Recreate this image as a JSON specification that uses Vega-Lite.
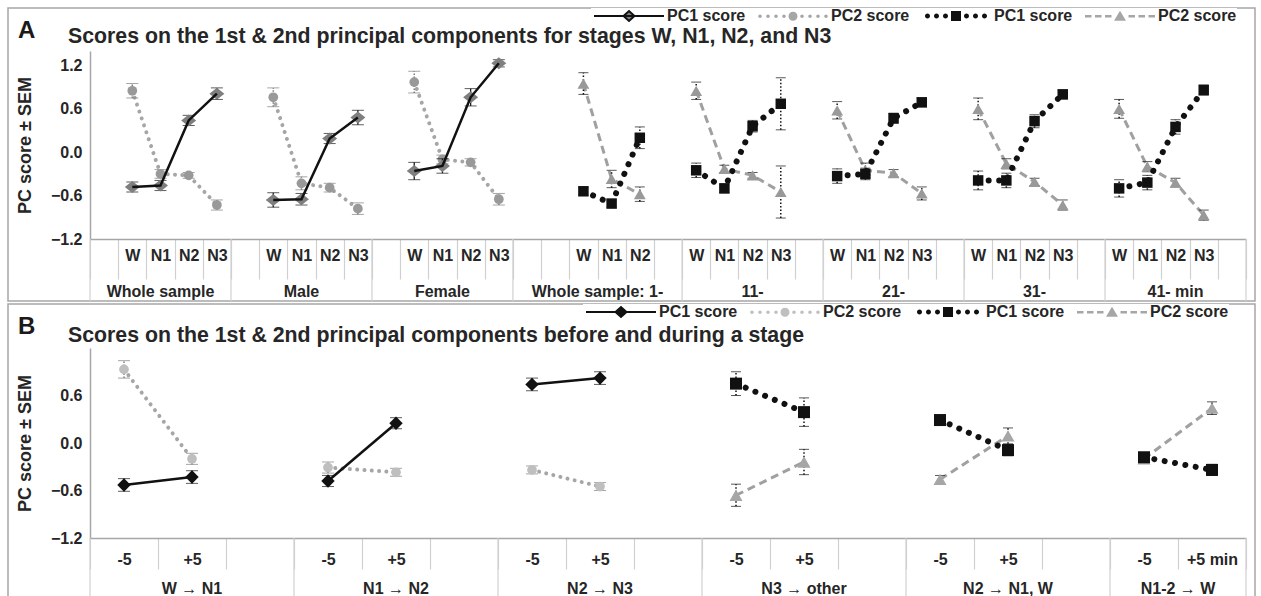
{
"$schema": "https://vega.github.io/schema/vega-lite/v6.json",
"padding": {"left": 7, "top": 7, "right": 0, "bottom": 0},
"spacing": 0,
"config": {"font": "Liberation Sans", "view": {"stroke": "#a6a6a6", "strokeWidth": 1.5}, "concat": {"spacing": 0}},
"resolve": {"scale": {"shape": "independent", "fill": "independent", "stroke": "independent"}, "legend": {"shape": "independent", "fill": "independent", "stroke": "independent"}},
"datasets": {
"A": [
{"g":"Whole sample","s":"Whole sample|W","ser":"PC1a","y":-0.48,"e":0.07},
{"g":"Whole sample","s":"Whole sample|N1","ser":"PC1a","y":-0.46,"e":0.07},
{"g":"Whole sample","s":"Whole sample|N2","ser":"PC1a","y":0.44,"e":0.07},
{"g":"Whole sample","s":"Whole sample|N3","ser":"PC1a","y":0.81,"e":0.08},
{"g":"Whole sample","s":"Whole sample|W","ser":"PC2a","y":0.85,"e":0.1},
{"g":"Whole sample","s":"Whole sample|N1","ser":"PC2a","y":-0.3,"e":0.06},
{"g":"Whole sample","s":"Whole sample|N2","ser":"PC2a","y":-0.32,"e":0.04},
{"g":"Whole sample","s":"Whole sample|N3","ser":"PC2a","y":-0.73,"e":0.07},
{"g":"Male","s":"Male|W","ser":"PC1a","y":-0.66,"e":0.1},
{"g":"Male","s":"Male|N1","ser":"PC1a","y":-0.65,"e":0.08},
{"g":"Male","s":"Male|N2","ser":"PC1a","y":0.19,"e":0.07},
{"g":"Male","s":"Male|N3","ser":"PC1a","y":0.48,"e":0.1},
{"g":"Male","s":"Male|W","ser":"PC2a","y":0.76,"e":0.13},
{"g":"Male","s":"Male|N1","ser":"PC2a","y":-0.43,"e":0.09},
{"g":"Male","s":"Male|N2","ser":"PC2a","y":-0.49,"e":0.06},
{"g":"Male","s":"Male|N3","ser":"PC2a","y":-0.78,"e":0.08},
{"g":"Female","s":"Female|W","ser":"PC1a","y":-0.26,"e":0.12},
{"g":"Female","s":"Female|N1","ser":"PC1a","y":-0.19,"e":0.1},
{"g":"Female","s":"Female|N2","ser":"PC1a","y":0.76,"e":0.12},
{"g":"Female","s":"Female|N3","ser":"PC1a","y":1.23,"e":0.05},
{"g":"Female","s":"Female|W","ser":"PC2a","y":0.97,"e":0.15},
{"g":"Female","s":"Female|N1","ser":"PC2a","y":-0.1,"e":0.06},
{"g":"Female","s":"Female|N2","ser":"PC2a","y":-0.14,"e":0.05},
{"g":"Female","s":"Female|N3","ser":"PC2a","y":-0.65,"e":0.08},
{"g":"Whole sample: 1-","s":"Whole sample: 1-|W","ser":"PC1b","y":-0.54,"e":0.05},
{"g":"Whole sample: 1-","s":"Whole sample: 1-|N1","ser":"PC1b","y":-0.71,"e":0.05},
{"g":"Whole sample: 1-","s":"Whole sample: 1-|N2","ser":"PC1b","y":0.2,"e":0.15},
{"g":"Whole sample: 1-","s":"Whole sample: 1-|W","ser":"PC2b","y":0.95,"e":0.15},
{"g":"Whole sample: 1-","s":"Whole sample: 1-|N1","ser":"PC2b","y":-0.37,"e":0.12},
{"g":"Whole sample: 1-","s":"Whole sample: 1-|N2","ser":"PC2b","y":-0.58,"e":0.1},
{"g":"11-","s":"11-|W","ser":"PC1b","y":-0.25,"e":0.1},
{"g":"11-","s":"11-|N1","ser":"PC1b","y":-0.5,"e":0.06},
{"g":"11-","s":"11-|N2","ser":"PC1b","y":0.36,"e":0.08},
{"g":"11-","s":"11-|N3","ser":"PC1b","y":0.67,"e":0.36},
{"g":"11-","s":"11-|W","ser":"PC2b","y":0.85,"e":0.12},
{"g":"11-","s":"11-|N1","ser":"PC2b","y":-0.23,"e":0.05},
{"g":"11-","s":"11-|N2","ser":"PC2b","y":-0.32,"e":0.04},
{"g":"11-","s":"11-|N3","ser":"PC2b","y":-0.55,"e":0.36},
{"g":"21-","s":"21-|W","ser":"PC1b","y":-0.33,"e":0.1},
{"g":"21-","s":"21-|N1","ser":"PC1b","y":-0.3,"e":0.08},
{"g":"21-","s":"21-|N2","ser":"PC1b","y":0.47,"e":0.07},
{"g":"21-","s":"21-|N3","ser":"PC1b","y":0.69,"e":0.06},
{"g":"21-","s":"21-|W","ser":"PC2b","y":0.58,"e":0.12},
{"g":"21-","s":"21-|N1","ser":"PC2b","y":-0.25,"e":0.1},
{"g":"21-","s":"21-|N2","ser":"PC2b","y":-0.29,"e":0.05},
{"g":"21-","s":"21-|N3","ser":"PC2b","y":-0.57,"e":0.09},
{"g":"31-","s":"31-|W","ser":"PC1b","y":-0.39,"e":0.13},
{"g":"31-","s":"31-|N1","ser":"PC1b","y":-0.39,"e":0.1},
{"g":"31-","s":"31-|N2","ser":"PC1b","y":0.43,"e":0.09},
{"g":"31-","s":"31-|N3","ser":"PC1b","y":0.8,"e":0.06},
{"g":"31-","s":"31-|W","ser":"PC2b","y":0.6,"e":0.15},
{"g":"31-","s":"31-|N1","ser":"PC2b","y":-0.16,"e":0.07},
{"g":"31-","s":"31-|N2","ser":"PC2b","y":-0.41,"e":0.05},
{"g":"31-","s":"31-|N3","ser":"PC2b","y":-0.73,"e":0.07},
{"g":"41- min","s":"41- min|W","ser":"PC1b","y":-0.5,"e":0.12},
{"g":"41- min","s":"41- min|N1","ser":"PC1b","y":-0.42,"e":0.1},
{"g":"41- min","s":"41- min|N2","ser":"PC1b","y":0.35,"e":0.1},
{"g":"41- min","s":"41- min|N3","ser":"PC1b","y":0.86,"e":0.07},
{"g":"41- min","s":"41- min|W","ser":"PC2b","y":0.6,"e":0.13},
{"g":"41- min","s":"41- min|N1","ser":"PC2b","y":-0.2,"e":0.07},
{"g":"41- min","s":"41- min|N2","ser":"PC2b","y":-0.42,"e":0.06},
{"g":"41- min","s":"41- min|N3","ser":"PC2b","y":-0.87,"e":0.07}
],
"B": [
{"g":"W → N1","s":"W → N1|-5","ser":"PC1a","y":-0.53,"e":0.08},
{"g":"W → N1","s":"W → N1|+5","ser":"PC1a","y":-0.43,"e":0.08},
{"g":"W → N1","s":"W → N1|-5","ser":"PC2a","y":0.93,"e":0.11},
{"g":"W → N1","s":"W → N1|+5","ser":"PC2a","y":-0.2,"e":0.07},
{"g":"N1 → N2","s":"N1 → N2|-5","ser":"PC1a","y":-0.48,"e":0.07},
{"g":"N1 → N2","s":"N1 → N2|+5","ser":"PC1a","y":0.25,"e":0.07},
{"g":"N1 → N2","s":"N1 → N2|-5","ser":"PC2a","y":-0.31,"e":0.07},
{"g":"N1 → N2","s":"N1 → N2|+5","ser":"PC2a","y":-0.37,"e":0.05},
{"g":"N2 → N3","s":"N2 → N3|-5","ser":"PC1a","y":0.74,"e":0.08},
{"g":"N2 → N3","s":"N2 → N3|+5","ser":"PC1a","y":0.82,"e":0.08},
{"g":"N2 → N3","s":"N2 → N3|-5","ser":"PC2a","y":-0.34,"e":0.05},
{"g":"N2 → N3","s":"N2 → N3|+5","ser":"PC2a","y":-0.55,"e":0.05},
{"g":"N3 → other","s":"N3 → other|-5","ser":"PC1b","y":0.75,"e":0.15},
{"g":"N3 → other","s":"N3 → other|+5","ser":"PC1b","y":0.39,"e":0.18},
{"g":"N3 → other","s":"N3 → other|-5","ser":"PC2b","y":-0.66,"e":0.14},
{"g":"N3 → other","s":"N3 → other|+5","ser":"PC2b","y":-0.24,"e":0.16},
{"g":"N2 → N1, W","s":"N2 → N1, W|-5","ser":"PC1b","y":0.29,"e":0.05},
{"g":"N2 → N1, W","s":"N2 → N1, W|+5","ser":"PC1b","y":-0.09,"e":0.07},
{"g":"N2 → N1, W","s":"N2 → N1, W|-5","ser":"PC2b","y":-0.46,"e":0.05},
{"g":"N2 → N1, W","s":"N2 → N1, W|+5","ser":"PC2b","y":0.09,"e":0.1},
{"g":"N1-2 →  W","s":"N1-2 →  W|-5","ser":"PC1b","y":-0.18,"e":0.06},
{"g":"N1-2 →  W","s":"N1-2 →  W|+5 min","ser":"PC1b","y":-0.34,"e":0.07},
{"g":"N1-2 →  W","s":"N1-2 →  W|-5","ser":"PC2b","y":-0.2,"e":0.05},
{"g":"N1-2 →  W","s":"N1-2 →  W|+5 min","ser":"PC2b","y":0.44,"e":0.08}
],
"sepA": [{"s":"Whole sample|"},{"s":"Male|"},{"s":"Female|"},{"s":"Whole sample: 1-|"},{"s":"11-|W"},{"s":"21-|W"},{"s":"31-|W"},{"s":"41- min|W"}],
"endA": [{"s":"41- min|"}],
"gA": [
{"g":"Whole sample","s":"Whole sample|N1","n":5},
{"g":"Male","s":"Male|N1","n":5},
{"g":"Female","s":"Female|N1","n":5},
{"g":"Whole sample: 1-","s":"Whole sample: 1-|W","n":6},
{"g":"11-","s":"11-|N2","n":5},
{"g":"21-","s":"21-|N2","n":5},
{"g":"31-","s":"31-|N2","n":5},
{"g":"41- min","s":"41- min|N2","n":5}
],
"sepB": [{"s":"W → N1|-5"},{"s":"N1 → N2|-5"},{"s":"N2 → N3|-5"},{"s":"N3 → other|-5"},{"s":"N2 → N1, W|-5"},{"s":"N1-2 →  W|-5"}],
"endB": [{"s":"N1-2 →  W|+5 min"}],
"gB": [
{"g":"W → N1","s":"W → N1|+5","n":3},
{"g":"N1 → N2","s":"N1 → N2|+5","n":3},
{"g":"N2 → N3","s":"N2 → N3|+5","n":3},
{"g":"N3 → other","s":"N3 → other|+5","n":3},
{"g":"N2 → N1, W","s":"N2 → N1, W|+5","n":3},
{"g":"N1-2 →  W","s":"N1-2 →  W|-5","n":2}
],
"leg": []
},
"vconcat": [
{
"title": {"text": "A", "anchor": "start", "frame": "group", "fontSize": 24, "fontWeight": "bold", "color": "#1a1a1a", "baseline": "alphabetic", "offset": -55, "dx": 10},
"resolve": {"scale": {"shape": "independent", "fill": "independent", "stroke": "independent"}},
"vconcat": [
{
"title": {"text": "Scores on the 1st & 2nd principal components for stages W, N1, N2, and N3", "anchor": "start", "frame": "group", "fontSize": 21.3, "fontWeight": "bold", "color": "#262626", "baseline": "alphabetic", "offset": -56, "dx": 60},
"width": 1247, "height": 293,
"layer": [
{"data": {"name": "sepA"}, "mark": {"type": "rule", "color": "#d0d0d0", "strokeWidth": 1.2},
 "encoding": {
  "x": {"field": "s", "type": "ordinal", "bandPosition": 0,
   "scale": {"type": "band", "domain": ["Whole sample|","Whole sample|W","Whole sample|N1","Whole sample|N2","Whole sample|N3","Male|","Male|W","Male|N1","Male|N2","Male|N3","Female|","Female|W","Female|N1","Female|N2","Female|N3","Whole sample: 1-|","Whole sample: 1-| ","Whole sample: 1-|W","Whole sample: 1-|N1","Whole sample: 1-|N2","Whole sample: 1-|  ","11-|W","11-|N1","11-|N2","11-|N3","11-|","21-|W","21-|N1","21-|N2","21-|N3","21-|","31-|W","31-|N1","31-|N2","31-|N3","31-|","41- min|W","41- min|N1","41- min|N2","41- min|N3","41- min|"], "range": [82, 1238], "paddingInner": 0, "paddingOuter": 0},
   "axis": {"title": null, "offset": -62, "tickBand": "extent", "tickSize": 40, "tickColor": "#d0d0d0", "tickWidth": 1.2, "domainColor": "#a6a6a6", "domainWidth": 1.5, "labelExpr": "split(datum.label,'|')[1]", "labelFontSize": 16, "labelFontWeight": "bold", "labelColor": "#262626", "labelPadding": -32, "labelAngle": 0, "labelOverlap": false, "labelBound": false, "grid": false}},
  "y": {"datum": -1.2, "type": "quantitative",
   "scale": {"domain": [-1.2, 1.4], "range": [231, 43], "nice": false, "zero": false},
   "axis": {"values": [-1.2, -0.6, 0, 0.6, 1.2], "format": ".1f", "offset": -82, "ticks": false, "grid": false, "domainColor": "#a6a6a6", "domainWidth": 1.5, "labelFontSize": 16, "labelFontWeight": "bold", "labelColor": "#262626", "labelPadding": 8, "title": "PC score ± SEM", "titleFontSize": 18, "titleFontWeight": "bold", "titleColor": "#262626", "titlePadding": 16}},
  "y2": {"datum": -2.06}}},
{"data": {"name": "endA"}, "mark": {"type": "rule", "color": "#d0d0d0", "strokeWidth": 1.2},
 "encoding": {"x": {"field": "s", "type": "ordinal", "bandPosition": 1}, "y": {"datum": -1.2}, "y2": {"datum": -2.06}}},
{"data": {"name": "gA"}, "transform": [{"filter": "datum.n % 2 == 1"}], "mark": {"type": "text", "fontSize": 16, "fontWeight": "bold", "color": "#262626", "baseline": "middle"},
 "encoding": {"x": {"field": "s", "type": "ordinal", "bandPosition": 0.5}, "y": {"datum": -1.93}, "text": {"field": "g"}}},
{"data": {"name": "gA"}, "transform": [{"filter": "datum.n % 2 == 0"}], "mark": {"type": "text", "fontSize": 16, "fontWeight": "bold", "color": "#262626", "baseline": "middle"},
 "encoding": {"x": {"field": "s", "type": "ordinal", "bandPosition": 1}, "y": {"datum": -1.93}, "text": {"field": "g"}}},
{"data": {"name": "A"}, "transform": [{"filter": "datum.ser == 'PC2a'"}], "mark": {"type": "line", "color": "#a6a6a6", "strokeWidth": 4, "strokeDash": [0.01, 7.3], "strokeCap": "round"},
 "encoding": {"x": {"field": "s", "type": "ordinal"}, "y": {"field": "y", "type": "quantitative", "title": "PC score ± SEM"}, "detail": {"field": "g"}, "order": {"value": null}}},
{"data": {"name": "A"}, "transform": [{"filter": "datum.ser == 'PC2a'"}], "mark": {"type": "errorbar", "ticks": {"size": 12, "color": "#7f7f7f", "strokeWidth": 1.5, "strokeDash": [1.5, 1.5]}, "rule": {"color": "#7f7f7f", "strokeWidth": 1.5, "strokeDash": [1.5, 1.5]}},
 "encoding": {"x": {"field": "s", "type": "ordinal"}, "y": {"field": "y", "type": "quantitative", "title": "PC score ± SEM"}, "yError": {"field": "e"}}},
{"data": {"name": "A"}, "transform": [{"filter": "datum.ser == 'PC2a'"}], "mark": {"type": "point", "shape": "circle", "filled": true, "size": 95, "color": "#999999", "opacity": 1},
 "encoding": {"x": {"field": "s", "type": "ordinal"}, "y": {"field": "y", "type": "quantitative", "title": "PC score ± SEM"}}},
{"data": {"name": "A"}, "transform": [{"filter": "datum.ser == 'PC1a'"}], "mark": {"type": "errorbar", "ticks": {"size": 12, "color": "#1a1a1a", "strokeWidth": 1.3}, "rule": {"color": "#1a1a1a", "strokeWidth": 1.3}},
 "encoding": {"x": {"field": "s", "type": "ordinal"}, "y": {"field": "y", "type": "quantitative", "title": "PC score ± SEM"}, "yError": {"field": "e"}}},
{"data": {"name": "A"}, "transform": [{"filter": "datum.ser == 'PC1a'"}], "mark": {"type": "point", "shape": "M-1,0L0,-0.8L1,0L0,0.8Z", "filled": true, "size": 225, "color": "#7f7f7f", "opacity": 1},
 "encoding": {"x": {"field": "s", "type": "ordinal"}, "y": {"field": "y", "type": "quantitative", "title": "PC score ± SEM"}}},
{"data": {"name": "A"}, "transform": [{"filter": "datum.ser == 'PC1a'"}], "mark": {"type": "line", "color": "#111111", "strokeWidth": 2.5},
 "encoding": {"x": {"field": "s", "type": "ordinal"}, "y": {"field": "y", "type": "quantitative", "title": "PC score ± SEM"}, "detail": {"field": "g"}, "order": {"value": null}}},
{"data": {"name": "A"}, "transform": [{"filter": "datum.ser == 'PC2b'"}], "mark": {"type": "line", "color": "#a0a0a0", "strokeWidth": 3, "strokeDash": [8, 5]},
 "encoding": {"x": {"field": "s", "type": "ordinal"}, "y": {"field": "y", "type": "quantitative", "title": "PC score ± SEM"}, "detail": {"field": "g"}, "order": {"value": null}}},
{"data": {"name": "A"}, "transform": [{"filter": "datum.ser == 'PC2b'"}], "mark": {"type": "errorbar", "ticks": {"size": 10, "color": "#111111", "strokeWidth": 1.5, "strokeDash": [1.5, 2]}, "rule": {"color": "#111111", "strokeWidth": 1.5, "strokeDash": [1.5, 2]}},
 "encoding": {"x": {"field": "s", "type": "ordinal"}, "y": {"field": "y", "type": "quantitative", "title": "PC score ± SEM"}, "yError": {"field": "e"}}},
{"data": {"name": "A"}, "transform": [{"filter": "datum.ser == 'PC2b'"}], "mark": {"type": "point", "shape": "triangle-up", "filled": true, "size": 140, "color": "#999999", "opacity": 1},
 "encoding": {"x": {"field": "s", "type": "ordinal"}, "y": {"field": "y", "type": "quantitative", "title": "PC score ± SEM"}}},
{"data": {"name": "A"}, "transform": [{"filter": "datum.ser == 'PC1b'"}], "mark": {"type": "line", "color": "#111111", "strokeWidth": 6, "strokeDash": [0.01, 10.5], "strokeCap": "round"},
 "encoding": {"x": {"field": "s", "type": "ordinal"}, "y": {"field": "y", "type": "quantitative", "title": "PC score ± SEM"}, "detail": {"field": "g"}, "order": {"value": null}}},
{"data": {"name": "A"}, "transform": [{"filter": "datum.ser == 'PC1b'"}], "mark": {"type": "errorbar", "ticks": {"size": 10, "color": "#111111", "strokeWidth": 1.5, "strokeDash": [1.5, 2]}, "rule": {"color": "#111111", "strokeWidth": 1.5, "strokeDash": [1.5, 2]}},
 "encoding": {"x": {"field": "s", "type": "ordinal"}, "y": {"field": "y", "type": "quantitative", "title": "PC score ± SEM"}, "yError": {"field": "e"}}},
{"data": {"name": "A"}, "transform": [{"filter": "datum.ser == 'PC1b'"}], "mark": {"type": "point", "shape": "square", "filled": true, "size": 110, "color": "#111111", "opacity": 1},
 "encoding": {"x": {"field": "s", "type": "ordinal"}, "y": {"field": "y", "type": "quantitative", "title": "PC score ± SEM"}}},
{"data": {"name": "leg"}, "mark": {"type": "point", "filled": true, "strokeWidth": 2, "opacity": 1},
 "encoding": {
  "shape": {"field": "ser", "type": "nominal", "scale": {"domain": ["PC1a","PC2a","PC1b","PC2b"], "range": [
   "M-7,0L7,0M-1.1,0L0,-1L1.1,0L0,1Z",
   "M-6.95,0a0.35,0.35 0 1,0 0.7,0a0.35,0.35 0 1,0 -0.7,0M-5.35,0a0.35,0.35 0 1,0 0.7,0a0.35,0.35 0 1,0 -0.7,0M-3.75,0a0.35,0.35 0 1,0 0.7,0a0.35,0.35 0 1,0 -0.7,0M-2.15,0a0.35,0.35 0 1,0 0.7,0a0.35,0.35 0 1,0 -0.7,0M-0.9,0a0.9,0.9 0 1,0 1.8,0a0.9,0.9 0 1,0 -1.8,0M1.45,0a0.35,0.35 0 1,0 0.7,0a0.35,0.35 0 1,0 -0.7,0M3.05,0a0.35,0.35 0 1,0 0.7,0a0.35,0.35 0 1,0 -0.7,0M4.65,0a0.35,0.35 0 1,0 0.7,0a0.35,0.35 0 1,0 -0.7,0M6.25,0a0.35,0.35 0 1,0 0.7,0a0.35,0.35 0 1,0 -0.7,0",
   "M-6.2,0a0.5,0.5 0 1,0 1,0a0.5,0.5 0 1,0 -1,0M-4.4,0a0.5,0.5 0 1,0 1,0a0.5,0.5 0 1,0 -1,0M-2.6,0a0.5,0.5 0 1,0 1,0a0.5,0.5 0 1,0 -1,0M-1,-1L1,-1L1,1L-1,1ZM1.6,0a0.5,0.5 0 1,0 1,0a0.5,0.5 0 1,0 -1,0M3.4,0a0.5,0.5 0 1,0 1,0a0.5,0.5 0 1,0 -1,0M5.2,0a0.5,0.5 0 1,0 1,0a0.5,0.5 0 1,0 -1,0",
   "M-7,-0.25L-5.7,-0.25L-5.7,0.25L-7,0.25ZM-5,-0.25L-3.7,-0.25L-3.7,0.25L-5,0.25ZM-3,-0.25L-1.7,-0.25L-1.7,0.25L-3,0.25ZM0,-1.1L1.2,0.9L-1.2,0.9ZM1.7,-0.25L3,-0.25L3,0.25L1.7,0.25ZM3.7,-0.25L5,-0.25L5,0.25L3.7,0.25ZM5.7,-0.25L7,-0.25L7,0.25L5.7,0.25Z"
  ]},
   "legend": {"title": null, "orient": "none", "legendX": 583, "legendY": 0, "direction": "horizontal", "symbolSize": 100, "symbolStrokeWidth": 2, "symbolOpacity": 1, "symbolOffset": 30, "labelOffset": 30, "columnPadding": 8, "labelFontSize": 16, "labelFontWeight": "bold", "labelColor": "#262626", "labelExpr": "slice(datum.label,0,3) + ' score'", "fillColor": "white"}},
  "fill": {"field": "ser", "type": "nominal", "scale": {"domain": ["PC1a","PC2a","PC1b","PC2b"], "range": ["#7f7f7f","#a6a6a6","#111111","#a6a6a6"]},
   "legend": {"title": null, "orient": "none", "legendX": 583, "legendY": 0, "direction": "horizontal", "symbolSize": 100, "symbolStrokeWidth": 2, "symbolOpacity": 1, "symbolOffset": 30, "labelOffset": 30, "columnPadding": 8, "labelFontSize": 16, "labelFontWeight": "bold", "labelColor": "#262626", "labelExpr": "slice(datum.label,0,3) + ' score'", "fillColor": "white"}},
  "stroke": {"field": "ser", "type": "nominal", "scale": {"domain": ["PC1a","PC2a","PC1b","PC2b"], "range": ["#111111","transparent","transparent","transparent"]},
   "legend": {"title": null, "orient": "none", "legendX": 583, "legendY": 0, "direction": "horizontal", "symbolSize": 100, "symbolStrokeWidth": 2, "symbolOpacity": 1, "symbolOffset": 30, "labelOffset": 30, "columnPadding": 8, "labelFontSize": 16, "labelFontWeight": "bold", "labelColor": "#262626", "labelExpr": "slice(datum.label,0,3) + ' score'", "fillColor": "white"}}
 }}
]
}
]
},
{
"title": {"text": "B", "anchor": "start", "frame": "group", "fontSize": 24, "fontWeight": "bold", "color": "#1a1a1a", "baseline": "alphabetic", "offset": -55, "dx": 10},
"resolve": {"scale": {"shape": "independent", "fill": "independent", "stroke": "independent"}},
"vconcat": [
{
"title": {"text": "Scores on the 1st & 2nd principal components before and during a stage", "anchor": "start", "frame": "group", "fontSize": 21.3, "fontWeight": "bold", "color": "#262626", "baseline": "alphabetic", "offset": -59.5, "dx": 60},
"width": 1247, "height": 294,
"layer": [
{"data": {"name": "sepB"}, "mark": {"type": "rule", "color": "#d0d0d0", "strokeWidth": 1.2},
 "encoding": {
  "x": {"field": "s", "type": "ordinal", "bandPosition": 0,
   "scale": {"type": "band", "domain": ["W → N1|-5","W → N1|+5","W → N1|","N1 → N2|-5","N1 → N2|+5","N1 → N2|","N2 → N3|-5","N2 → N3|+5","N2 → N3|","N3 → other|-5","N3 → other|+5","N3 → other|","N2 → N1, W|-5","N2 → N1, W|+5","N2 → N1, W|","N1-2 →  W|-5","N1-2 →  W|+5 min"], "range": [82, 1238], "paddingInner": 0, "paddingOuter": 0},
   "axis": {"title": null, "offset": -60, "tickBand": "extent", "tickSize": 31, "tickColor": "#d0d0d0", "tickWidth": 1.2, "domainColor": "#a6a6a6", "domainWidth": 1.5, "labelExpr": "split(datum.label,'|')[1]", "labelFontSize": 16, "labelFontWeight": "bold", "labelColor": "#262626", "labelPadding": -18, "labelAngle": 0, "labelOverlap": false, "labelBound": false, "grid": false}},
  "y": {"datum": -1.2, "type": "quantitative",
   "scale": {"domain": [-1.2, 1.2], "range": [234, 44], "nice": false, "zero": false},
   "axis": {"values": [-1.2, -0.6, 0, 0.6], "format": ".1f", "offset": -82, "ticks": false, "grid": false, "domainColor": "#a6a6a6", "domainWidth": 1.5, "labelFontSize": 16, "labelFontWeight": "bold", "labelColor": "#262626", "labelPadding": 8, "title": "PC score ± SEM", "titleFontSize": 18, "titleFontWeight": "bold", "titleColor": "#262626", "titlePadding": 16}},
  "y2": {"datum": -1.99}}},
{"data": {"name": "endB"}, "mark": {"type": "rule", "color": "#d0d0d0", "strokeWidth": 1.2},
 "encoding": {"x": {"field": "s", "type": "ordinal", "bandPosition": 1}, "y": {"datum": -1.2}, "y2": {"datum": -1.99}}},
{"data": {"name": "gB"}, "transform": [{"filter": "datum.n % 2 == 1"}], "mark": {"type": "text", "fontSize": 16, "fontWeight": "bold", "color": "#262626", "baseline": "middle"},
 "encoding": {"x": {"field": "s", "type": "ordinal", "bandPosition": 0.5}, "y": {"datum": -1.845}, "text": {"field": "g"}}},
{"data": {"name": "gB"}, "transform": [{"filter": "datum.n % 2 == 0"}], "mark": {"type": "text", "fontSize": 16, "fontWeight": "bold", "color": "#262626", "baseline": "middle"},
 "encoding": {"x": {"field": "s", "type": "ordinal", "bandPosition": 1}, "y": {"datum": -1.845}, "text": {"field": "g"}}},
{"data": {"name": "B"}, "transform": [{"filter": "datum.ser == 'PC2a'"}], "mark": {"type": "line", "color": "#a6a6a6", "strokeWidth": 4, "strokeDash": [0.01, 7.3], "strokeCap": "round"},
 "encoding": {"x": {"field": "s", "type": "ordinal"}, "y": {"field": "y", "type": "quantitative", "title": "PC score ± SEM"}, "detail": {"field": "g"}, "order": {"value": null}}},
{"data": {"name": "B"}, "transform": [{"filter": "datum.ser == 'PC2a'"}], "mark": {"type": "errorbar", "ticks": {"size": 12, "color": "#7f7f7f", "strokeWidth": 1.5, "strokeDash": [1.5, 1.5]}, "rule": {"color": "#7f7f7f", "strokeWidth": 1.5, "strokeDash": [1.5, 1.5]}},
 "encoding": {"x": {"field": "s", "type": "ordinal"}, "y": {"field": "y", "type": "quantitative", "title": "PC score ± SEM"}, "yError": {"field": "e"}}},
{"data": {"name": "B"}, "transform": [{"filter": "datum.ser == 'PC2a'"}], "mark": {"type": "point", "shape": "circle", "filled": true, "size": 95, "color": "#bfbfbf", "opacity": 1},
 "encoding": {"x": {"field": "s", "type": "ordinal"}, "y": {"field": "y", "type": "quantitative", "title": "PC score ± SEM"}}},
{"data": {"name": "B"}, "transform": [{"filter": "datum.ser == 'PC1a'"}], "mark": {"type": "errorbar", "ticks": {"size": 12, "color": "#1a1a1a", "strokeWidth": 1.3}, "rule": {"color": "#1a1a1a", "strokeWidth": 1.3}},
 "encoding": {"x": {"field": "s", "type": "ordinal"}, "y": {"field": "y", "type": "quantitative", "title": "PC score ± SEM"}, "yError": {"field": "e"}}},
{"data": {"name": "B"}, "transform": [{"filter": "datum.ser == 'PC1a'"}], "mark": {"type": "line", "color": "#111111", "strokeWidth": 2.5},
 "encoding": {"x": {"field": "s", "type": "ordinal"}, "y": {"field": "y", "type": "quantitative", "title": "PC score ± SEM"}, "detail": {"field": "g"}, "order": {"value": null}}},
{"data": {"name": "B"}, "transform": [{"filter": "datum.ser == 'PC1a'"}], "mark": {"type": "point", "shape": "diamond", "filled": true, "size": 180, "color": "#111111", "opacity": 1},
 "encoding": {"x": {"field": "s", "type": "ordinal"}, "y": {"field": "y", "type": "quantitative", "title": "PC score ± SEM"}}},
{"data": {"name": "B"}, "transform": [{"filter": "datum.ser == 'PC2b'"}], "mark": {"type": "line", "color": "#a0a0a0", "strokeWidth": 3, "strokeDash": [8, 5]},
 "encoding": {"x": {"field": "s", "type": "ordinal"}, "y": {"field": "y", "type": "quantitative", "title": "PC score ± SEM"}, "detail": {"field": "g"}, "order": {"value": null}}},
{"data": {"name": "B"}, "transform": [{"filter": "datum.ser == 'PC2b'"}], "mark": {"type": "errorbar", "ticks": {"size": 10, "color": "#111111", "strokeWidth": 1.5, "strokeDash": [1.5, 2]}, "rule": {"color": "#111111", "strokeWidth": 1.5, "strokeDash": [1.5, 2]}},
 "encoding": {"x": {"field": "s", "type": "ordinal"}, "y": {"field": "y", "type": "quantitative", "title": "PC score ± SEM"}, "yError": {"field": "e"}}},
{"data": {"name": "B"}, "transform": [{"filter": "datum.ser == 'PC2b'"}], "mark": {"type": "point", "shape": "triangle-up", "filled": true, "size": 170, "color": "#a6a6a6", "opacity": 1},
 "encoding": {"x": {"field": "s", "type": "ordinal"}, "y": {"field": "y", "type": "quantitative", "title": "PC score ± SEM"}}},
{"data": {"name": "B"}, "transform": [{"filter": "datum.ser == 'PC1b'"}], "mark": {"type": "line", "color": "#111111", "strokeWidth": 6, "strokeDash": [0.01, 10.5], "strokeCap": "round"},
 "encoding": {"x": {"field": "s", "type": "ordinal"}, "y": {"field": "y", "type": "quantitative", "title": "PC score ± SEM"}, "detail": {"field": "g"}, "order": {"value": null}}},
{"data": {"name": "B"}, "transform": [{"filter": "datum.ser == 'PC1b'"}], "mark": {"type": "errorbar", "ticks": {"size": 10, "color": "#111111", "strokeWidth": 1.5, "strokeDash": [1.5, 2]}, "rule": {"color": "#111111", "strokeWidth": 1.5, "strokeDash": [1.5, 2]}},
 "encoding": {"x": {"field": "s", "type": "ordinal"}, "y": {"field": "y", "type": "quantitative", "title": "PC score ± SEM"}, "yError": {"field": "e"}}},
{"data": {"name": "B"}, "transform": [{"filter": "datum.ser == 'PC1b'"}], "mark": {"type": "point", "shape": "square", "filled": true, "size": 144, "color": "#111111", "opacity": 1},
 "encoding": {"x": {"field": "s", "type": "ordinal"}, "y": {"field": "y", "type": "quantitative", "title": "PC score ± SEM"}}},
{"data": {"name": "leg"}, "mark": {"type": "point", "filled": true, "strokeWidth": 2, "opacity": 1},
 "encoding": {
  "shape": {"field": "ser", "type": "nominal", "scale": {"domain": ["PC1a","PC2a","PC1b","PC2b"], "range": [
   "M-7,0L7,0M-1.1,0L0,-1L1.1,0L0,1Z",
   "M-6.95,0a0.35,0.35 0 1,0 0.7,0a0.35,0.35 0 1,0 -0.7,0M-5.35,0a0.35,0.35 0 1,0 0.7,0a0.35,0.35 0 1,0 -0.7,0M-3.75,0a0.35,0.35 0 1,0 0.7,0a0.35,0.35 0 1,0 -0.7,0M-2.15,0a0.35,0.35 0 1,0 0.7,0a0.35,0.35 0 1,0 -0.7,0M-0.9,0a0.9,0.9 0 1,0 1.8,0a0.9,0.9 0 1,0 -1.8,0M1.45,0a0.35,0.35 0 1,0 0.7,0a0.35,0.35 0 1,0 -0.7,0M3.05,0a0.35,0.35 0 1,0 0.7,0a0.35,0.35 0 1,0 -0.7,0M4.65,0a0.35,0.35 0 1,0 0.7,0a0.35,0.35 0 1,0 -0.7,0M6.25,0a0.35,0.35 0 1,0 0.7,0a0.35,0.35 0 1,0 -0.7,0",
   "M-6.2,0a0.5,0.5 0 1,0 1,0a0.5,0.5 0 1,0 -1,0M-4.4,0a0.5,0.5 0 1,0 1,0a0.5,0.5 0 1,0 -1,0M-2.6,0a0.5,0.5 0 1,0 1,0a0.5,0.5 0 1,0 -1,0M-1,-1L1,-1L1,1L-1,1ZM1.6,0a0.5,0.5 0 1,0 1,0a0.5,0.5 0 1,0 -1,0M3.4,0a0.5,0.5 0 1,0 1,0a0.5,0.5 0 1,0 -1,0M5.2,0a0.5,0.5 0 1,0 1,0a0.5,0.5 0 1,0 -1,0",
   "M-7,-0.25L-5.7,-0.25L-5.7,0.25L-7,0.25ZM-5,-0.25L-3.7,-0.25L-3.7,0.25L-5,0.25ZM-3,-0.25L-1.7,-0.25L-1.7,0.25L-3,0.25ZM0,-1.1L1.2,0.9L-1.2,0.9ZM1.7,-0.25L3,-0.25L3,0.25L1.7,0.25ZM3.7,-0.25L5,-0.25L5,0.25L3.7,0.25ZM5.7,-0.25L7,-0.25L7,0.25L5.7,0.25Z"
  ]},
   "legend": {"title": null, "orient": "none", "legendX": 575, "legendY": 0, "direction": "horizontal", "symbolSize": 100, "symbolStrokeWidth": 2, "symbolOpacity": 1, "symbolOffset": 30, "labelOffset": 30, "columnPadding": 8, "labelFontSize": 16, "labelFontWeight": "bold", "labelColor": "#262626", "labelExpr": "slice(datum.label,0,3) + ' score'", "fillColor": "white"}},
  "fill": {"field": "ser", "type": "nominal", "scale": {"domain": ["PC1a","PC2a","PC1b","PC2b"], "range": ["#111111","#bfbfbf","#111111","#a6a6a6"]},
   "legend": {"title": null, "orient": "none", "legendX": 575, "legendY": 0, "direction": "horizontal", "symbolSize": 100, "symbolStrokeWidth": 2, "symbolOpacity": 1, "symbolOffset": 30, "labelOffset": 30, "columnPadding": 8, "labelFontSize": 16, "labelFontWeight": "bold", "labelColor": "#262626", "labelExpr": "slice(datum.label,0,3) + ' score'", "fillColor": "white"}},
  "stroke": {"field": "ser", "type": "nominal", "scale": {"domain": ["PC1a","PC2a","PC1b","PC2b"], "range": ["#111111","transparent","transparent","transparent"]},
   "legend": {"title": null, "orient": "none", "legendX": 575, "legendY": 0, "direction": "horizontal", "symbolSize": 100, "symbolStrokeWidth": 2, "symbolOpacity": 1, "symbolOffset": 30, "labelOffset": 30, "columnPadding": 8, "labelFontSize": 16, "labelFontWeight": "bold", "labelColor": "#262626", "labelExpr": "slice(datum.label,0,3) + ' score'", "fillColor": "white"}}
 }}
]
}
]
}
]
}
